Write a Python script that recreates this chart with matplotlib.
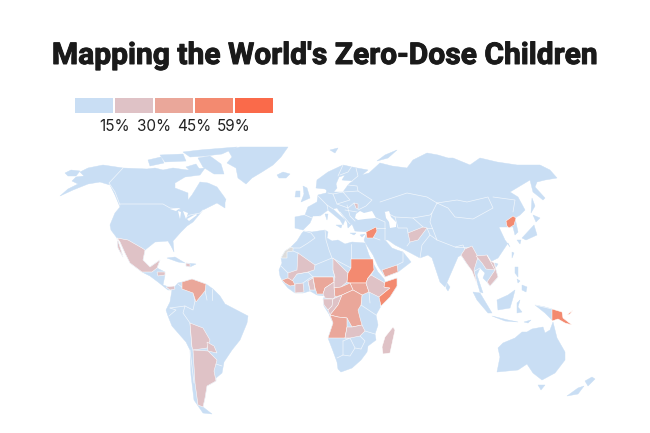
import matplotlib
matplotlib.use("Agg")
import matplotlib.pyplot as plt
import matplotlib.patheffects as pe
import numpy as np

# === DATA ===

title = "Mapping the World's Zero-Dose Children"
legend_labels = ["15%", "30%", "45%", "59%"]
bin_edges = [15, 30, 45, 59]
bin_colors = ["#c9def4", "#dfc2c6", "#eaa79a", "#f38a70", "#fa6a4a"]
no_data_color = "#dcdcdc"
base_value = 5

# share of zero-dose children
zero_dose = {
    "Mexico": 22, "Baja": 22, "Honduras": 22, "Panama": 22, "Haiti": 30,
    "Venezuela": 42, "Bolivia": 22, "Paraguay": 22, "Argentina": 22,
    "Mali": 22, "Guinea": 42, "Ivory Coast": 22, "Togo": 22, "Nigeria": 42, "Chad": 22,
    "Sudan": 50, "South Sudan": 42, "Ethiopia": 22, "Somalia": 59, "CAR": 42, "Cameroon": 22,
    "Gabon": 22, "Congo": 22, "DRC": 42, "Angola": 42, "Zambia": 22, "Madagascar": 22,
    "Yemen": 42, "Syria": 50, "Afghanistan": 22, "Moldova": 22,
    "Myanmar": 22, "Laos": 22, "Vietnam": 22,
    "North Korea": 59, "Papua New Guinea": 50, "New Britain": 50,
}

# coastlines in map units
land = {
    "North America": [(60,196),(73,190),(88,184),(100,182),(110,185),(115,195),(120,207),(115,213),(110,225),(111,230),(117,238),(118,248),(123,257),(120,247),(117,238),(128,240),(142,248),(145,250),(155,242),(168,241),(171,246),(174,252),(173,241),(181,232),(187,226),(193,222),(203,210),(217,203),(225,208),(225,198),(217,187),(208,183),(200,182),(192,195),(188,200),(188,193),(175,188),(175,183),(185,177),(200,175),(205,168),(187,170),(173,168),(163,170),(155,168),(147,169),(123,168),(103,165),(88,168),(80,172),(84,176),(76,177),(72,181),(78,184),(68,189)],
    "Mexico Central": [(145,250),(143,260),(150,267),(160,260),(157,268),(165,272),(165,275),(163,285),(172,288),(178,285),(176,290),(168,290),(158,282),(150,276),(142,272),(130,263),(125,253),(120,242),(128,240)],
    "Seward": [(65,173),(71,170),(80,171),(76,176),(68,176)],
    "Baffin": [(198,158),(210,156),(221,164),(224,174),(214,174),(203,167)],
    "Victoria": [(148,160),(161,157),(164,163),(150,166)],
    "Banks": [(160,155),(183,154),(186,161),(165,162)],
    "Ellesmere": [(183,152),(200,150),(237,147),(222,154),(205,156),(190,157)],
    "Southampton": [(186,167),(196,164),(200,170),(192,172)],
    "Newfoundland": [(220,198),(226,199),(224,205),(219,203)],
    "Greenland": [(228,150),(240,147),(288,147),(281,157),(273,165),(262,172),(252,178),(246,184),(238,178),(236,168),(227,163),(232,157)],
    "Iceland": [(277,175),(283,172),(290,174),(286,178),(279,178)],
    "Cuba": [(167,258),(175,257),(185,263),(178,262)],
    "Hispaniola": [(186,263),(196,264),(190,267),(186,266)],
    "South America": [(182,282),(192,279),(206,284),(213,289),(220,296),(225,304),(248,316),(247,323),(240,340),(232,350),(224,362),(222,373),(216,378),(216,381),(207,386),(205,398),(203,407),(212,414),(203,413),(194,400),(191,375),(190,350),(186,342),(172,326),(168,316),(166,310),(170,302),(172,290),(178,283)],
    "Africa": [(302,233),(304,231),(312,232),(325,230),(328,232),(327,238),(332,241),(338,240),(345,244),(352,242),(365,243),(366,246),(369,255),(373,263),(378,272),(384,279),(385,282),(397,278),(397,286),(390,297),(381,306),(376,315),(378,325),(375,334),(376,340),(368,346),(367,352),(361,360),(352,368),(341,372),(338,369),(337,362),(333,351),(328,338),(333,323),(329,314),(324,306),(323,299),(325,296),(317,295),(310,291),(303,293),(295,293),(288,288),(283,282),(280,276),(279,270),(282,263),(281,258),(285,251),(291,247),(297,241)],
    "Eurasia": [(295,228),(295,217),(305,215),(308,207),(317,202),(318,195),(326,193),(328,187),(331,192),(343,192),(348,185),(350,183),(353,181),(342,180),(345,175),(339,177),(336,184),(337,188),(332,194),(325,189),(316,188),(317,180),(328,172),(343,165),(357,168),(368,170),(362,175),(369,173),(380,163),(392,166),(407,168),(413,160),(427,153),(438,155),(448,158),(453,158),(470,165),(480,158),(497,162),(517,165),(540,165),(550,170),(557,178),(545,180),(537,182),(535,187),(545,198),(543,200),(533,192),(530,180),(510,192),(518,197),(525,210),(520,215),(515,218),(518,232),(515,235),(513,227),(508,227),(498,227),(497,223),(505,240),(510,247),(508,243),(498,258),(490,262),(494,263),(498,277),(490,286),(487,282),(483,278),(485,273),(480,268),(477,275),(483,293),(480,292),(475,275),(472,270),(467,264),(461,255),(458,257),(445,287),(440,282),(432,258),(428,255),(420,258),(405,250),(395,245),(388,240),(385,240),(392,248),(397,250),(403,252),(411,262),(398,272),(385,277),(378,266),(373,255),(366,244),(364,240),(367,232),(355,231),(352,224),(355,221),(353,223),(348,228),(347,222),(337,208),(333,209),(345,220),(343,225),(340,220),(328,210),(320,216),(313,216),(310,223),(303,230)],
    "UK": [(303,186),(307,188),(310,198),(301,202),(304,194)],
    "Ireland": [(296,191),(300,191),(300,197),(295,197)],
    "Novaya Zemlya": [(377,161),(385,155),(397,150),(388,158)],
    "Sicily": [(336,225),(342,225),(341,228)],
    "Sardinia": [(325,214),(328,214),(327,220)],
    "Crete": [(350,233),(356,233),(354,235)],
    "Cyprus": [(360,235),(365,234),(362,237)],
    "Sri Lanka": [(447,283),(450,287),(448,291),(446,288)],
    "Sakhalin": [(532,198),(535,206),(531,213)],
    "Hokkaido": [(533,215),(540,218),(536,222)],
    "Honshu": [(522,238),(534,225),(537,235),(526,240)],
    "Kyushu": [(517,240),(521,240),(520,244)],
    "Taiwan": [(512,252),(514,253),(512,258)],
    "Hainan": [(495,263),(498,264),(496,267)],
    "Luzon": [(515,267),(518,267),(518,277),(515,273)],
    "Visayas": [(517,279),(520,281),(518,283)],
    "Mindanao": [(522,285),(527,287),(526,292),(522,290)],
    "Sumatra": [(473,292),(480,293),(492,313),(488,313),(477,300)],
    "Java": [(492,316),(508,320),(518,322),(505,321)],
    "Borneo": [(497,300),(508,295),(515,290),(513,298),(510,308),(498,310)],
    "Sulawesi": [(517,303),(520,300),(518,307),(522,312),(517,313)],
    "Timor": [(524,322),(531,320),(528,323)],
    "New Guinea": [(535,305),(545,307),(552,309),(552,320),(545,313)],
    "Australia": [(498,348),(503,343),(515,338),(522,332),(527,332),(532,329),(543,327),(545,333),(550,330),(553,322),(557,338),(565,352),(565,360),(555,373),(542,380),(533,373),(527,364),(518,370),(497,372),(500,357)],
    "Tasmania": [(538,385),(545,385),(541,390)],
    "New Zealand N": [(585,381),(592,377),(595,379),(588,386)],
    "New Zealand S": [(567,396),(578,388),(584,386),(578,394)],
    "Svalbard": [(330,150),(338,148),(335,153)],
}

# inland water cut out of the land
water = {
    "Superior": [(170,209),(180,208),(176,211)],
    "Michigan": [(178,211),(181,212),(180,219)],
    "Huron": [(183,211),(188,213),(186,219)],
    "Erie": [(187,219),(196,214),(197,215),(189,221)],
    "Caspian": [(385,212),(389,211),(391,217),(396,222),(396,227),(390,228),(389,222),(386,218)],
    "Black Sea": [(356,214),(360,211),(364,213),(372,211),(376,218),(365,219),(358,220),(355,218)],
}

# countries with a colour other than the base one
countries = {
    "Western Sahara": [(293,248),(293,251),(287,252),(287,258),(281,258),(285,251),(291,247)],
    "Mexico": [(117,238),(128,240),(142,248),(145,250),(143,260),(150,267),(160,260),(157,268),(152,272),(142,272),(130,263),(125,253),(120,242)],
    "Baja": [(117,238),(120,247),(123,257),(118,248)],
    "Honduras": [(157,272),(165,272),(165,275),(158,276)],
    "Panama": [(166,287),(174,286),(175,289),(170,290)],
    "Haiti": [(186,263),(190,264),(190,267),(186,266)],
    "Venezuela": [(182,282),(192,279),(206,284),(205,291),(196,302),(193,293),(182,289)],
    "Bolivia": [(190,323),(203,328),(210,340),(207,348),(193,350),(192,347)],
    "Paraguay": [(207,342),(214,346),(217,353),(208,351)],
    "Argentina": [(193,350),(208,351),(217,360),(214,371),(216,381),(207,386),(205,398),(203,407),(198,405),(195,383)],
    "Mali": [(298,253),(315,265),(314,270),(308,272),(297,274),(292,281),(288,278),(288,273),(297,270)],
    "Guinea": [(282,280),(288,278),(293,281),(295,285),(290,286),(285,283)],
    "Ivory Coast": [(295,284),(303,283),(304,292),(295,293)],
    "Togo": [(308,281),(313,278),(315,290),(310,290)],
    "Nigeria": [(313,277),(333,277),(334,282),(325,288),(323,294),(317,294),(315,288)],
    "Chad": [(333,258),(348,273),(347,282),(341,287),(334,288),(334,282),(335,277),(333,270)],
    "Sudan": [(351,259),(373,259),(374,270),(368,278),(366,283),(350,283),(347,282),(348,273),(351,268)],
    "South Sudan": [(350,283),(366,283),(369,292),(362,295),(353,290)],
    "Ethiopia": [(368,278),(371,275),(385,283),(384,287),(390,288),(379,297),(369,292),(366,283)],
    "Somalia": [(385,282),(397,278),(397,286),(390,297),(381,306),(379,297),(390,288),(384,287)],
    "CAR": [(334,288),(341,287),(350,283),(353,290),(342,295),(335,297)],
    "Cameroon": [(325,288),(334,282),(334,288),(335,297),(333,299),(325,298),(323,294)],
    "Gabon": [(323,299),(333,299),(332,306),(328,310),(324,305)],
    "Congo": [(333,299),(342,295),(338,305),(330,315),(328,310),(332,306)],
    "DRC": [(342,295),(353,290),(362,295),(361,305),(358,310),(360,318),(362,325),(352,327),(347,318),(338,317),(330,315),(338,305)],
    "Angola": [(330,315),(338,317),(347,318),(347,327),(345,338),(328,338),(333,323)],
    "Zambia": [(347,327),(352,327),(362,325),(365,331),(360,336),(350,338),(345,338)],
    "Madagascar": [(393,327),(395,330),(390,353),(383,354),(382,347),(385,337)],
    "Moldova": [(354,203),(358,204),(358,209),(356,208)],
    "Syria": [(366,232),(376,227),(377,231),(373,238),(367,238)],
    "Yemen": [(382,270),(397,265),(398,272),(385,277)],
    "Afghanistan": [(408,233),(423,227),(427,228),(418,240),(410,242)],
    "Myanmar": [(467,264),(461,255),(465,249),(472,246),(478,257),(474,270),(477,284),(472,271)],
    "Laos": [(476,256),(487,255),(491,262),(495,270),(486,269),(482,263)],
    "Vietnam": [(487,255),(491,261),(494,263),(498,277),(490,286),(487,282),(493,273),(495,270)],
    "North Korea": [(506,221),(513,216),(516,218),(514,225),(509,228),(507,226)],
    "Papua New Guinea": [(552,309),(562,312),(563,318),(572,325),(565,323),(558,319),(552,321)],
    "New Britain": [(567,315),(573,310),(570,314)],
}

# thin borders between base coloured countries
borders = [
    [(123,168),(109,183),(115,192),(120,205)],
    [(120,204),(163,204),(170,208),(180,209)],
    [(186,217),(190,215),(200,213),(203,210)],
    [(298,253),(293,251)], [(304,231),(311,233),(315,238),(308,243),(300,248),(293,248)],
    [(315,265),(332,258),(329,250),(326,240),(325,230)], [(332,258),(351,268)], [(351,244),(351,268)],
    [(351,259),(373,259)], [(333,270),(335,277),(313,277),(308,272)],
    [(297,274),(308,272)], [(303,283),(310,278),(313,277)], [(308,281),(310,291)], [(281,266),(288,273)],
    [(362,295),(361,305),(376,315)], [(369,292),(370,303)], [(380,296),(380,306)], [(371,275),(374,270)],
    [(365,331),(375,334)], [(361,349),(365,341),(360,336)], [(350,338),(355,348),(361,349)],
    [(343,341),(343,355),(337,358)], [(343,355),(350,356),(355,348)], [(345,338),(350,338),(343,341)],
    [(178,284),(183,288)], [(193,292),(195,301),(193,310),(185,306),(170,308)], [(170,308),(176,310),(169,316)],
    [(185,306),(183,313),(190,323),(192,347)], [(205,290),(207,300)], [(212,289),(212,300)],
    [(190,350),(194,383)], [(216,364),(222,366)],
    [(305,215),(312,218),(320,216)], [(318,196),(327,205),(328,210)], [(327,205),(333,209)], [(328,193),(333,194),(337,204)],
    [(333,194),(343,192),(350,200),(337,204),(348,208),(354,203)], [(343,192),(358,191),(372,200),(366,206),(358,210)],
    [(348,185),(357,186),(358,191)], [(345,210),(357,212)], [(340,212),(350,224)], [(347,205),(350,216),(355,221)],
    [(340,175),(348,172),(352,166)], [(343,165),(338,176)], [(352,181),(358,176),(356,168)],
    [(380,202),(407,193),(427,197),(437,203),(432,213),(430,215),(413,218),(395,217),(385,212)],
    [(395,217),(398,228),(407,228),(408,233)], [(413,218),(423,227)], [(376,218),(385,222),(385,240)],
    [(372,237),(380,240)], [(376,228),(385,228)], [(397,265),(403,262),(403,252)], [(407,246),(410,242)],
    [(427,228),(430,235),(422,245),(420,258)], [(430,235),(437,240),(455,247),(463,245),(465,250)],
    [(437,203),(448,208),(455,217),(473,219),(493,208),(488,197),(467,202),(457,200),(437,203)],
    [(432,213),(430,222),(437,240)], [(432,228),(427,228)], [(472,247),(455,247)],
    [(477,258),(483,262)], [(513,212),(515,200),(493,197)], [(508,227),(513,225)],
    [(476,283),(473,272),(480,268)], [(535,305),(552,309)],
]


def colour_for(name):
    if name == "Western Sahara":
        return no_data_color
    value = zero_dose.get(name, base_value)
    return bin_colors[int(np.searchsorted(bin_edges, value))]


fig = plt.figure(figsize=(6.5, 4.33), dpi=100)
ax = fig.add_axes([0, 0, 1, 1])
ax.set_xlim(0, 650)
ax.set_ylim(433, 0)
ax.axis("off")

for pts in land.values():
    xs, ys = zip(*pts)
    ax.fill(xs, ys, facecolor=bin_colors[0], edgecolor=bin_colors[0], linewidth=0.3, zorder=2)

for pts in water.values():
    xs, ys = zip(*pts)
    ax.fill(xs, ys, facecolor="white", edgecolor="none", zorder=3)

for line in borders:
    xs, ys = zip(*line)
    ax.plot(xs, ys, color="white", linewidth=0.5, alpha=0.75, zorder=4)

for name, pts in countries.items():
    xs, ys = zip(*pts)
    ax.fill(xs, ys, facecolor=colour_for(name), edgecolor="#ffffff", linewidth=0.35, zorder=5)

# legend strip
left, width, gap = 75, 38.4, 1.5
for i, col in enumerate(bin_colors):
    ax.add_patch(plt.Rectangle((left + i * (width + gap), 98), width, 15, facecolor=col, edgecolor="none"))
for i, label in enumerate(legend_labels):
    ax.text(left + (i + 1) * (width + gap) - 0.7, 126.5, label, ha="center", va="center",
            fontsize=11, family="Inter", color="#222222")

ax.text(325, 56, title, ha="center", va="center", fontsize=21.6, fontweight="bold",
        family="Roboto", color="#1a1a1a",
        path_effects=[pe.withStroke(linewidth=0.7, foreground="#1a1a1a")])

fig.savefig("out.png", dpi=100)
